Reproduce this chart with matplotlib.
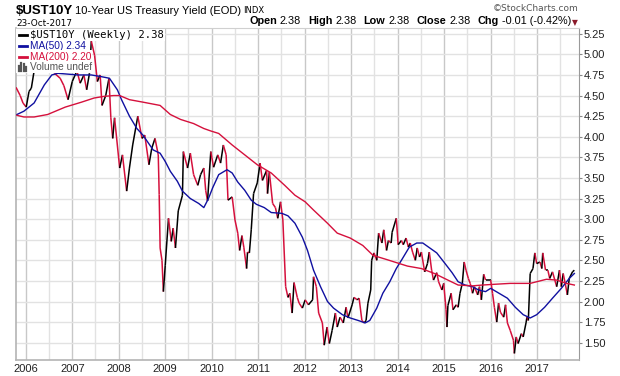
import numpy as np
import matplotlib
matplotlib.use("Agg")
import matplotlib.pyplot as plt
from matplotlib.collections import LineCollection
from matplotlib.lines import Line2D
from matplotlib.patches import Rectangle

# ------------------------------------------------------------
# data (decimal year, yield in %)
# ------------------------------------------------------------
px_t = [2005.79, 2005.88, 2005.94, 2006.01, 2006.07, 2006.12, 2006.18, 2006.25, 2006.32, 2006.40,
        2006.47, 2006.54, 2006.62, 2006.74, 2006.82, 2006.91, 2007.00, 2007.10, 2007.17, 2007.25,
        2007.31, 2007.37, 2007.41, 2007.48, 2007.54, 2007.60, 2007.64, 2007.72, 2007.79, 2007.83,
        2007.87, 2007.91, 2008.02, 2008.08, 2008.17, 2008.23, 2008.30, 2008.41, 2008.50, 2008.56,
        2008.65, 2008.71, 2008.78, 2008.85, 2008.87, 2008.89, 2008.93, 2008.96, 2009.00, 2009.07,
        2009.13, 2009.17, 2009.22, 2009.28, 2009.37, 2009.39, 2009.48, 2009.54, 2009.61, 2009.70,
        2009.76, 2009.83, 2009.87, 2009.91, 2009.98, 2010.04, 2010.13, 2010.19, 2010.25, 2010.31,
        2010.35, 2010.44, 2010.50, 2010.56, 2010.60, 2010.65, 2010.69, 2010.75, 2010.77, 2010.81,
        2010.85, 2010.90, 2010.98, 2011.04, 2011.09, 2011.18, 2011.20, 2011.24, 2011.31, 2011.37,
        2011.42, 2011.48, 2011.53, 2011.59, 2011.64, 2011.68, 2011.73, 2011.77, 2011.84, 2011.88,
        2011.95, 2012.01, 2012.08, 2012.17, 2012.19, 2012.25, 2012.30, 2012.38, 2012.42, 2012.48,
        2012.53, 2012.59, 2012.66, 2012.70, 2012.76, 2012.83, 2012.89, 2012.93, 2013.02, 2013.06,
        2013.13, 2013.17, 2013.23, 2013.28, 2013.32, 2013.36, 2013.42, 2013.44, 2013.49, 2013.55,
        2013.59, 2013.66, 2013.70, 2013.76, 2013.80, 2013.86, 2013.88, 2013.97, 2014.01, 2014.08,
        2014.12, 2014.18, 2014.23, 2014.27, 2014.32, 2014.38, 2014.42, 2014.47, 2014.51, 2014.58,
        2014.64, 2014.68, 2014.73, 2014.77, 2014.84, 2014.88, 2014.95, 2014.99, 2015.04, 2015.06,
        2015.08, 2015.15, 2015.19, 2015.26, 2015.30, 2015.34, 2015.39, 2015.43, 2015.47, 2015.52,
        2015.56, 2015.61, 2015.65, 2015.72, 2015.76, 2015.80, 2015.85, 2015.89, 2015.96, 2016.00,
        2016.04, 2016.08, 2016.13, 2016.17, 2016.21, 2016.28, 2016.32, 2016.36, 2016.42, 2016.49,
        2016.51, 2016.55, 2016.59, 2016.66, 2016.70, 2016.76, 2016.78, 2016.81, 2016.85, 2016.91,
        2016.95, 2016.99, 2017.06, 2017.10, 2017.12, 2017.18, 2017.23, 2017.27, 2017.33, 2017.38,
        2017.42, 2017.48, 2017.52, 2017.56, 2017.61, 2017.65, 2017.69, 2017.76, 2017.80]
px_y = [4.60, 4.50, 4.41, 4.36, 4.55, 4.59, 4.80, 4.85, 5.05, 5.15,
        5.10, 4.95, 4.77, 4.71, 4.62, 4.45, 4.67, 4.80, 4.65, 4.75,
        4.57, 4.77, 5.16, 4.99, 4.67, 4.75, 4.38, 4.50, 4.71, 4.23,
        3.98, 4.23, 3.62, 3.78, 3.34, 3.62, 3.90, 4.25, 3.98, 4.02,
        3.66, 3.86, 3.98, 3.78, 3.30, 2.65, 2.50, 2.12, 2.44, 3.01,
        2.73, 2.89, 2.65, 3.10, 3.29, 3.82, 3.62, 3.80, 3.54, 3.41,
        3.54, 3.62, 3.35, 3.22, 3.82, 3.63, 3.78, 3.68, 3.90, 3.78,
        3.23, 3.27, 2.99, 2.83, 2.62, 2.80, 2.66, 2.40, 2.60, 2.59,
        2.87, 3.31, 3.44, 3.68, 3.47, 3.59, 3.31, 3.57, 3.19, 3.14,
        3.01, 3.21, 2.99, 2.18, 2.05, 2.10, 1.86, 2.23, 2.05, 1.98,
        1.92, 2.02, 1.96, 2.02, 2.30, 2.18, 1.86, 1.74, 1.47, 1.69,
        1.49, 1.65, 1.86, 1.69, 1.81, 1.74, 1.93, 1.80, 1.96, 2.05,
        2.02, 2.04, 1.77, 1.74, 1.77, 1.98, 2.14, 2.50, 2.59, 2.50,
        2.83, 2.71, 2.87, 2.62, 2.74, 2.71, 2.84, 3.01, 2.69, 2.74,
        2.69, 2.77, 2.66, 2.71, 2.60, 2.50, 2.65, 2.54, 2.60, 2.36,
        2.46, 2.60, 2.38, 2.26, 2.35, 2.24, 2.14, 2.22, 1.90, 1.69,
        1.95, 2.10, 1.90, 1.96, 1.93, 2.10, 2.22, 2.48, 2.38, 2.28,
        2.22, 2.10, 2.18, 2.08, 2.18, 2.02, 2.33, 2.26, 2.26, 2.26,
        2.10, 1.93, 1.75, 1.98, 1.87, 1.81, 1.96, 1.74, 1.65, 1.53,
        1.37, 1.57, 1.49, 1.61, 1.57, 1.74, 1.81, 1.77, 2.34, 2.40,
        2.59, 2.46, 2.48, 2.40, 2.59, 2.38, 2.38, 2.28, 2.36, 2.26,
        2.18, 2.38, 2.18, 2.34, 2.20, 2.08, 2.28, 2.36, 2.38]

ma50_t = [2005.81, 2005.96, 2006.18, 2006.40, 2006.56, 2006.69, 2007.12, 2007.41, 2007.62, 2007.80,
          2007.97, 2008.06, 2008.23, 2008.39, 2008.52, 2008.74, 2008.89, 2009.00, 2009.11, 2009.26,
          2009.37, 2009.54, 2009.72, 2009.83, 2009.93, 2010.02, 2010.15, 2010.33, 2010.44, 2010.56,
          2010.71, 2010.85, 2010.96, 2011.13, 2011.28, 2011.51, 2011.64, 2011.79, 2011.95, 2012.06,
          2012.19, 2012.34, 2012.49, 2012.62, 2012.81, 2012.98, 2013.15, 2013.30, 2013.40, 2013.55,
          2013.68, 2013.83, 2013.97, 2014.08, 2014.25, 2014.41, 2014.54, 2014.69, 2014.84, 2015.02,
          2015.17, 2015.30, 2015.45, 2015.61, 2015.74, 2015.89, 2016.00, 2016.15, 2016.36, 2016.53,
          2016.70, 2016.85, 2016.99, 2017.16, 2017.33, 2017.52, 2017.69, 2017.80]
ma50_y = [4.27, 4.31, 4.41, 4.63, 4.75, 4.77, 4.75, 4.75, 4.73, 4.71,
          4.57, 4.45, 4.25, 4.10, 4.02, 3.84, 3.80, 3.70, 3.58, 3.46,
          3.34, 3.25, 3.19, 3.14, 3.25, 3.38, 3.54, 3.60, 3.56, 3.45,
          3.35, 3.23, 3.18, 3.14, 3.08, 3.07, 3.04, 2.95, 2.78, 2.62,
          2.38, 2.18, 2.00, 1.92, 1.84, 1.80, 1.77, 1.74, 1.77, 1.92,
          2.10, 2.24, 2.40, 2.50, 2.66, 2.71, 2.71, 2.65, 2.59, 2.46,
          2.35, 2.24, 2.20, 2.18, 2.14, 2.12, 2.16, 2.11, 2.04, 1.93,
          1.84, 1.80, 1.84, 1.93, 2.04, 2.16, 2.28, 2.34]

ma200_t = [2005.81, 2005.96, 2006.18, 2006.47, 2006.85, 2007.20, 2007.47, 2007.68, 2007.89, 2008.02,
           2008.23, 2008.52, 2008.89, 2009.11, 2009.33, 2009.61, 2009.83, 2009.98, 2010.15, 2010.44,
           2010.71, 2010.98, 2011.28, 2011.57, 2011.79, 2012.01, 2012.19, 2012.49, 2012.70, 2012.98,
           2013.25, 2013.47, 2013.76, 2014.04, 2014.21, 2014.51, 2014.79, 2015.08, 2015.30, 2015.61,
           2015.82, 2016.11, 2016.42, 2016.85, 2017.20, 2017.42, 2017.63, 2017.80]
ma200_y = [4.26, 4.24, 4.24, 4.27, 4.36, 4.42, 4.47, 4.49, 4.50, 4.50,
           4.45, 4.42, 4.38, 4.27, 4.21, 4.16, 4.10, 4.07, 4.04, 3.90,
           3.78, 3.66, 3.56, 3.41, 3.29, 3.21, 3.11, 2.95, 2.83, 2.77,
           2.68, 2.56, 2.51, 2.46, 2.43, 2.40, 2.34, 2.26, 2.20, 2.19,
           2.20, 2.21, 2.22, 2.22, 2.27, 2.26, 2.22, 2.20]

years = list(range(2006, 2018))
y_ticks = [1.50, 1.75, 2.00, 2.25, 2.50, 2.75, 3.00, 3.25, 3.50, 3.75, 4.00, 4.25, 4.50, 4.75, 5.00, 5.25]

RED = "#d5103c"
BLUE = "#1010a0"
W, H = 620, 376


def fx(px):
    return px / W


def fy(py):
    return 1 - py / H


# ------------------------------------------------------------
# figure
# ------------------------------------------------------------
plt.rcParams["font.family"] = ["Liberation Sans", "DejaVu Sans"]
fig = plt.figure(figsize=(W / 100, H / 100), dpi=100)
ax = fig.add_axes([fx(16), fy(360), (579 - 16) / W, (360 - 28) / H])

# price line: black when rising, red when falling
t = np.array(px_t)
y = np.array(px_y)
pts = np.column_stack([t, y])
segs = np.stack([pts[:-1], pts[1:]], axis=1)
cols = ["black" if b >= a else RED for a, b in zip(y[:-1], y[1:])]
ax.add_collection(LineCollection(segs, colors=cols, linewidths=1.1, zorder=3))

ax.plot(ma50_t, ma50_y, color=BLUE, lw=1.0, zorder=4)
ax.plot(ma200_t, ma200_y, color=RED, lw=1.0, zorder=4)

ax.set_xlim(2005.79, 2017.90)
ax.set_ylim(1.29, 5.32)

ax.set_xticks(years)
ax.set_xticklabels([str(v) for v in years], fontsize=8)
ax.set_xticks([v + 0.5 for v in years], minor=True)
ax.set_yticks(y_ticks)
ax.set_yticklabels([f"{v:.2f}" for v in y_ticks], fontsize=8)
ax.yaxis.tick_right()
ax.tick_params(axis="y", length=2, pad=1.5, color="#888888", labelcolor="#222222")
ax.tick_params(axis="x", which="both", length=0, pad=3, labelcolor="#222222")

ax.grid(axis="y", color="#e2e2e2", lw=1.0, zorder=0)
ax.grid(axis="x", which="major", color="#c8c8c8", lw=1.0, zorder=0)
ax.grid(axis="x", which="minor", color="#e2e2e2", lw=1.0, zorder=0)
ax.set_axisbelow(True)

for side in ["left", "bottom"]:
    ax.spines[side].set_color("#b4b4b4")
    ax.spines[side].set_linewidth(1.2)
ax.spines["right"].set_color("#9a9a9a")
ax.spines["right"].set_linewidth(0.8)
ax.spines["top"].set_color("#d0d0d0")
ax.spines["top"].set_linewidth(0.8)

# ------------------------------------------------------------
# legend rows (white background hides the line behind them)
# ------------------------------------------------------------
legend_rows = [
    (f"$UST10Y (Weekly) {px_y[-1]:.2f}", "black", "DejaVu Sans Mono", 7.6, 35),
    (f"MA(50) {ma50_y[-1]:.2f}", BLUE, "Liberation Sans", 7.3, 46),
    (f"MA(200) {ma200_y[-1]:.2f}", RED, "Liberation Sans", 7.3, 56.5),
    ("Volume undef", "#555555", "Liberation Sans", 7.3, 67),
]
for label, col, fam, fs, py in legend_rows:
    ax_y = (360 - py) / 332
    ax.add_patch(Rectangle((0, ax_y - 0.017), 0.026, 0.034, transform=ax.transAxes,
                           facecolor="white", edgecolor="none", zorder=9))
    ax.text(0.024, ax_y, label, transform=ax.transAxes, fontsize=fs, family=fam,
            color=col, va="center", ha="left", zorder=10,
            bbox=dict(facecolor="white", edgecolor="none", pad=0.8))
    if label.startswith("Volume"):
        for i, h in enumerate([0.6, 1.0, 0.8, 0.5]):
            x0 = 0.0055 + i * 0.0042
            ax.add_line(Line2D([x0, x0], [ax_y - 0.013, ax_y - 0.013 + 0.026 * h],
                               transform=ax.transAxes, color="#555555", lw=1.6, zorder=11))
    else:
        ax.add_line(Line2D([0.005, 0.019], [ax_y, ax_y], transform=ax.transAxes,
                           color=col, lw=2.0, zorder=11))

# ------------------------------------------------------------
# header text
# ------------------------------------------------------------
fig.text(fx(16), fy(13.5), "$UST10Y", fontsize=9.5, weight="bold", va="baseline")
fig.text(fx(75), fy(13.5), "10-Year US Treasury Yield (EOD)", fontsize=8, va="baseline")
fig.text(fx(243), fy(13.0), "INDX", fontsize=6, family="DejaVu Sans", va="baseline")
fig.text(fx(16), fy(23.5), "23-Oct-2017", fontsize=6.4, family="DejaVu Sans", va="center")

quote = [("Open", "2.38"), ("High", "2.38"), ("Low", "2.38"), ("Close", "2.38"), ("Chg", "-0.01 (-0.42%)")]
prev = fig.text(fx(249), fy(26.3), "", fontsize=7.8, va="baseline")
first = True
for lab, val in quote:
    prev = ax.annotate(lab, xy=(1, 0), xycoords=prev, xytext=(0 if first else 5.2, 0),
                       textcoords="offset points", fontsize=7.8, weight="bold", va="bottom")
    prev = ax.annotate(val, xy=(1, 0), xycoords=prev, xytext=(2, 0),
                       textcoords="offset points", fontsize=7.8, va="bottom")
    first = False
fig.text(fx(579), fy(8.5), "\u00a9StockCharts.com", fontsize=6.5, family="DejaVu Sans",
         color="#555555", ha="right", va="center")
fig.text(fx(575), fy(22.5), "\u25bc", fontsize=5.5, family="DejaVu Sans", color="#8b1a2b",
         ha="center", va="center")

fig.savefig("out.png", dpi=100)
